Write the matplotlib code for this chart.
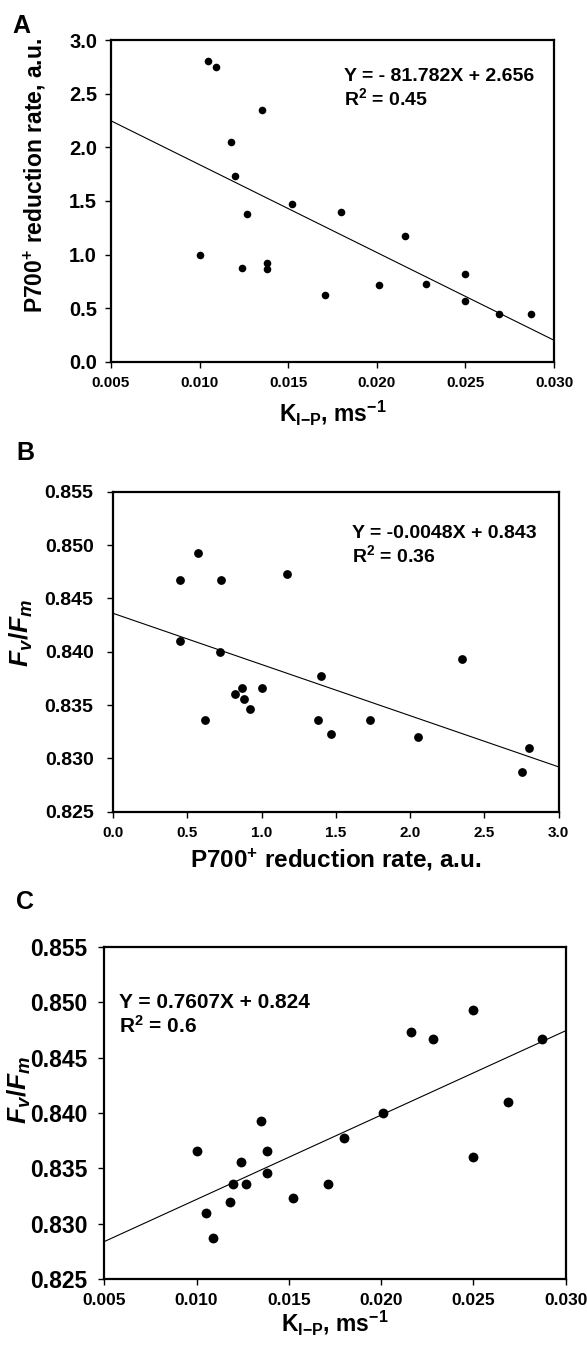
import numpy as np
import matplotlib
matplotlib.use("Agg")
import matplotlib.pyplot as plt
from matplotlib.ticker import FormatStrFormatter, MultipleLocator

plt.rcParams['font.family'] = ['Liberation Sans', 'DejaVu Sans']
plt.rcParams['font.weight'] = 'bold'
plt.rcParams['mathtext.fontset'] = 'custom'
plt.rcParams['mathtext.rm'] = 'Liberation Sans:bold'
plt.rcParams['mathtext.bf'] = 'Liberation Sans:bold'
plt.rcParams['mathtext.it'] = 'Liberation Sans:bold:italic'

# ---- data (20 samples) ----
k_ip = [0.0105, 0.0109, 0.0135, 0.0118, 0.0120, 0.0152, 0.0127, 0.0180, 0.0216, 0.0100,
        0.0124, 0.0138, 0.0138, 0.0171, 0.0201, 0.0228, 0.0250, 0.0250, 0.0269, 0.0287]
p700_rate = [2.80, 2.75, 2.35, 2.05, 1.73, 1.47, 1.38, 1.40, 1.17, 1.00,
             0.88, 0.92, 0.87, 0.62, 0.72, 0.73, 0.82, 0.57, 0.45, 0.45]
fv_fm = [0.8310, 0.8287, 0.8393, 0.8320, 0.8336, 0.8323, 0.8336, 0.8377, 0.8473, 0.8366,
         0.8356, 0.8346, 0.8366, 0.8336, 0.8400, 0.8467, 0.8360, 0.8493, 0.8410, 0.8467]

# regression lines (slope, intercept)
fit_a = (-81.782, 2.656)
fit_b = (-0.0048, 0.8436)
fit_c = (0.7607, 0.8246)

eq_a = "Y = - 81.782X + 2.656\nR$^{\\mathregular{2}}$ = 0.45"
eq_b = "Y = -0.0048X + 0.843\nR$^{\\mathregular{2}}$ = 0.36"
eq_c = "Y = 0.7607X + 0.824\nR$^{\\mathregular{2}}$ = 0.6"

W, H = 587, 1356
fig = plt.figure(figsize=(W / 100, H / 100), dpi=100)


def add_ax(l, r, t, b):
    return fig.add_axes([l / W, 1 - b / H, (r - l) / W, (b - t) / H])


def style(ax, xfs, yfs, ypad):
    for s in ax.spines.values():
        s.set_linewidth(1.6)
    ax.tick_params(direction='out', length=4, width=1)
    ax.tick_params(axis='x', labelsize=xfs, pad=6)
    ax.tick_params(axis='y', labelsize=yfs, pad=ypad)
    for lab in ax.get_xticklabels() + ax.get_yticklabels():
        lab.set_fontweight('bold')


def draw_fit(ax, fit, xlim):
    xs = np.array(xlim)
    ax.plot(xs, fit[0] * xs + fit[1], color='black', lw=0.8, zorder=2)


klabel = r"K$_{\mathregular{I{-}P}}$, ms$^{\mathregular{-1}}$"
plabel = r"P700$^{\mathregular{+}}$ reduction rate, a.u."
flabel = r"$\mathit{F}_{\mathit{v}}\mathit{/F}_{\mathit{m}}$"

# ---- Panel A ----
axA = add_ax(111, 554, 40, 362)
axA.scatter(k_ip, p700_rate, s=30, color='black', zorder=3, linewidths=0)
draw_fit(axA, fit_a, (0.005, 0.030))
axA.set_xlim(0.005, 0.030)
axA.set_ylim(0.0, 3.0)
axA.xaxis.set_major_locator(MultipleLocator(0.005))
axA.yaxis.set_major_locator(MultipleLocator(0.5))
axA.xaxis.set_major_formatter(FormatStrFormatter('%.3f'))
axA.yaxis.set_major_formatter(FormatStrFormatter('%.1f'))
style(axA, 11, 14.5, 6)
axA.set_xlabel(klabel, fontsize=16.5, fontweight='bold', labelpad=6)
axA.set_ylabel(plabel, fontsize=16.5, fontweight='bold')
axA.yaxis.set_label_coords(-0.143, 0.58)
axA.text(0.526, 0.913, eq_a, transform=axA.transAxes, fontsize=14, fontweight='bold',
         va='top', ha='left', linespacing=1.15)
fig.text(12 / W, 1 - 33 / H, "A", fontsize=18, fontweight='bold')

# ---- Panel B ----
axB = add_ax(113, 558.7, 491.7, 811.7)
axB.scatter(p700_rate, fv_fm, s=40, color='black', zorder=3, linewidths=0)
draw_fit(axB, fit_b, (0.0, 3.0))
axB.set_xlim(0.0, 3.0)
axB.set_ylim(0.825, 0.855)
axB.xaxis.set_major_locator(MultipleLocator(0.5))
axB.yaxis.set_major_locator(MultipleLocator(0.005))
axB.xaxis.set_major_formatter(FormatStrFormatter('%.1f'))
axB.yaxis.set_major_formatter(FormatStrFormatter('%.3f'))
style(axB, 11, 14, 10)
axB.set_xlabel(plabel, fontsize=17.5, fontweight='bold', labelpad=5)
axB.set_ylabel(flabel, fontsize=19)
axB.yaxis.set_label_coords(-0.175, 0.558)
axB.text(0.536, 0.896, eq_b, transform=axB.transAxes, fontsize=14, fontweight='bold',
         va='top', ha='left', linespacing=1.15)
fig.text(16 / W, 1 - 460 / H, "B", fontsize=18, fontweight='bold')

# ---- Panel C ----
axC = add_ax(104.3, 565.7, 946.7, 1279.3)
axC.scatter(k_ip, fv_fm, s=50, color='black', zorder=3, linewidths=0)
draw_fit(axC, fit_c, (0.005, 0.030))
axC.set_xlim(0.005, 0.030)
axC.set_ylim(0.825, 0.855)
axC.xaxis.set_major_locator(MultipleLocator(0.005))
axC.yaxis.set_major_locator(MultipleLocator(0.005))
axC.xaxis.set_major_formatter(FormatStrFormatter('%.3f'))
axC.yaxis.set_major_formatter(FormatStrFormatter('%.3f'))
style(axC, 12.5, 16.5, 8)
axC.set_xlabel(klabel, fontsize=16.5, fontweight='bold', labelpad=0)
axC.set_ylabel(flabel, fontsize=19)
axC.yaxis.set_label_coords(-0.155, 0.569)
axC.text(0.032, 0.861, eq_c, transform=axC.transAxes, fontsize=15, fontweight='bold',
         va='top', ha='left', linespacing=1.15)
fig.text(16 / W, 1 - 909 / H, "C", fontsize=18, fontweight='bold')

fig.savefig("out.png", dpi=100, facecolor='white')
